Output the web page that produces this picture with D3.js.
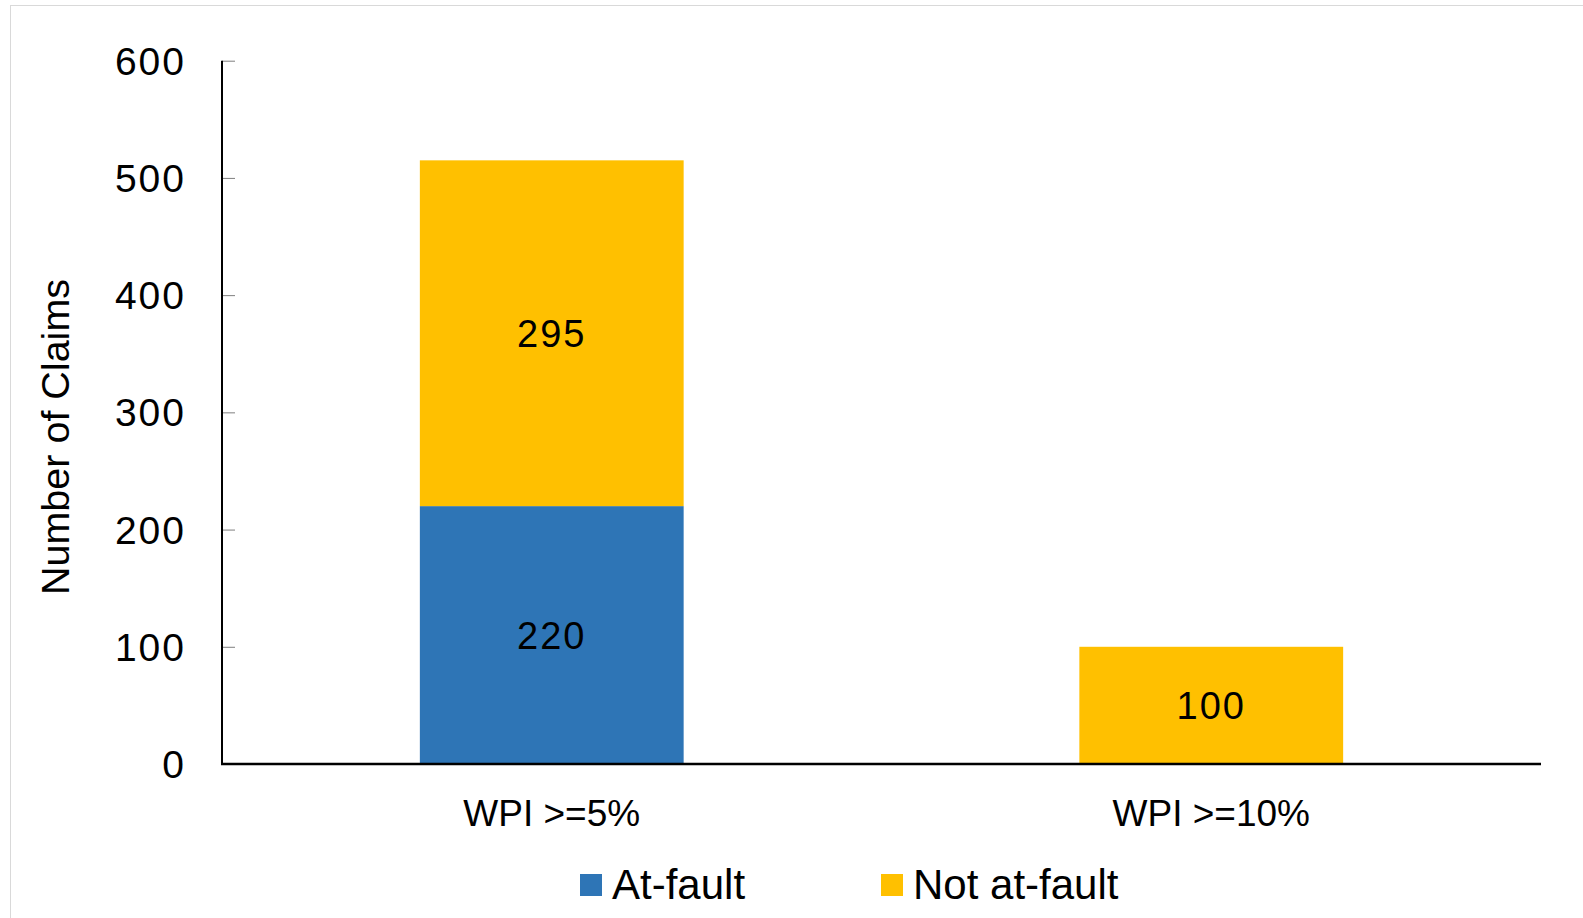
<!DOCTYPE html>
<html>
<head>
<meta charset="utf-8">
<script src="https://cdn.jsdelivr.net/npm/d3@7"></script>
<style>
  body { margin: 0; background: #fff; }
  text { font-family: "Liberation Sans", Arial, sans-serif; fill: #000; }
</style>
</head>
<body>
<script>
var categories = ["WPI >=5%", "WPI >=10%"];
var seriesNames = ["At-fault", "Not at-fault"];
var atFault = [220, 0];
var notAtFault = [295, 100];
var yTicks = [0, 100, 200, 300, 400, 500, 600];
var colors = ["#2E75B6", "#FFC000"];

var width = 1583, height = 918;
var plotLeft = 222, plotRight = 1541, plotTop = 60.7, plotBottom = 764;

var svg = d3.select("body").append("svg")
  .attr("width", width)
  .attr("height", height);

// chart frame
svg.append("rect")
  .attr("x", 10.5).attr("y", 5.5)
  .attr("width", 1600).attr("height", 1000)
  .attr("fill", "none")
  .attr("stroke", "#d9d9d9");

var x = d3.scaleBand()
  .domain(categories)
  .range([plotLeft, plotRight])
  .paddingInner(0.6)
  .paddingOuter(0.3);

var y = d3.scaleLinear()
  .domain([0, 600])
  .range([plotBottom, plotTop]);

var rows = categories.map(function(c, i) {
  return { cat: c, "At-fault": atFault[i], "Not at-fault": notAtFault[i] };
});
var stacked = d3.stack().keys(seriesNames)(rows);

var layers = svg.selectAll("g.layer")
  .data(stacked)
  .enter().append("g")
  .attr("class", "layer")
  .attr("fill", function(d, i) { return colors[i]; });

layers.selectAll("rect")
  .data(function(d) { return d; })
  .enter().append("rect")
  .attr("x", function(d) { return x(d.data.cat); })
  .attr("width", x.bandwidth())
  .attr("y", function(d) { return y(d[1]); })
  .attr("height", function(d) { return y(d[0]) - y(d[1]); });

// value labels
layers.selectAll("text")
  .data(function(d) { return d.filter(function(v) { return v[1] - v[0] > 0; }); })
  .enter().append("text")
  .attr("x", function(d) { return x(d.data.cat) + x.bandwidth() / 2; })
  .attr("y", function(d) { return y((d[0] + d[1]) / 2); })
  .attr("dy", "0.36em")
  .attr("text-anchor", "middle")
  .style("font-size", "38px")
  .style("letter-spacing", "2px")
  .style("fill", "#000")
  .text(function(d) { return d[1] - d[0]; });

// y axis
var yAxis = svg.append("g")
  .attr("transform", "translate(" + plotLeft + ",0)")
  .call(d3.axisRight(y).tickValues(yTicks).tickSize(13).tickFormat(""));
yAxis.select(".domain").remove();
yAxis.selectAll(".tick line").attr("stroke", "#7f7f7f").attr("stroke-width", 1);

svg.append("line")
  .attr("x1", plotLeft).attr("x2", plotLeft)
  .attr("y1", plotTop).attr("y2", plotBottom)
  .attr("stroke", "#000").attr("stroke-width", 2);

svg.selectAll("text.ytick")
  .data(yTicks)
  .enter().append("text")
  .attr("class", "ytick")
  .attr("x", 186)
  .attr("y", function(d) { return y(d); })
  .attr("dy", "0.36em")
  .attr("text-anchor", "end")
  .style("font-size", "39px")
  .style("letter-spacing", "2px")
  .text(function(d) { return d; });

// x axis
svg.append("line")
  .attr("x1", plotLeft - 1).attr("x2", plotRight)
  .attr("y1", plotBottom).attr("y2", plotBottom)
  .attr("stroke", "#000").attr("stroke-width", 2.5);

svg.selectAll("text.xlabel")
  .data(categories)
  .enter().append("text")
  .attr("class", "xlabel")
  .attr("x", function(d) { return x(d) + x.bandwidth() / 2; })
  .attr("y", 813)
  .attr("dy", "0.36em")
  .attr("text-anchor", "middle")
  .style("font-size", "37px")
  .text(function(d) { return d; });

// axis title
svg.append("text")
  .attr("transform", "translate(55,437) rotate(-90)")
  .attr("dy", "0.36em")
  .attr("text-anchor", "middle")
  .style("font-size", "39.5px")
  .text("Number of Claims");

// legend
var legendX = [580, 881];
var legend = svg.selectAll("g.legend")
  .data(seriesNames)
  .enter().append("g")
  .attr("class", "legend")
  .attr("transform", function(d, i) { return "translate(" + legendX[i] + ",874)"; });

legend.append("rect")
  .attr("width", 22).attr("height", 22)
  .attr("fill", function(d, i) { return colors[i]; });

legend.append("text")
  .attr("x", 32)
  .attr("y", 10)
  .attr("dy", "0.36em")
  .style("font-size", "42px")
  .text(function(d) { return d; });
</script>
</body>
</html>
